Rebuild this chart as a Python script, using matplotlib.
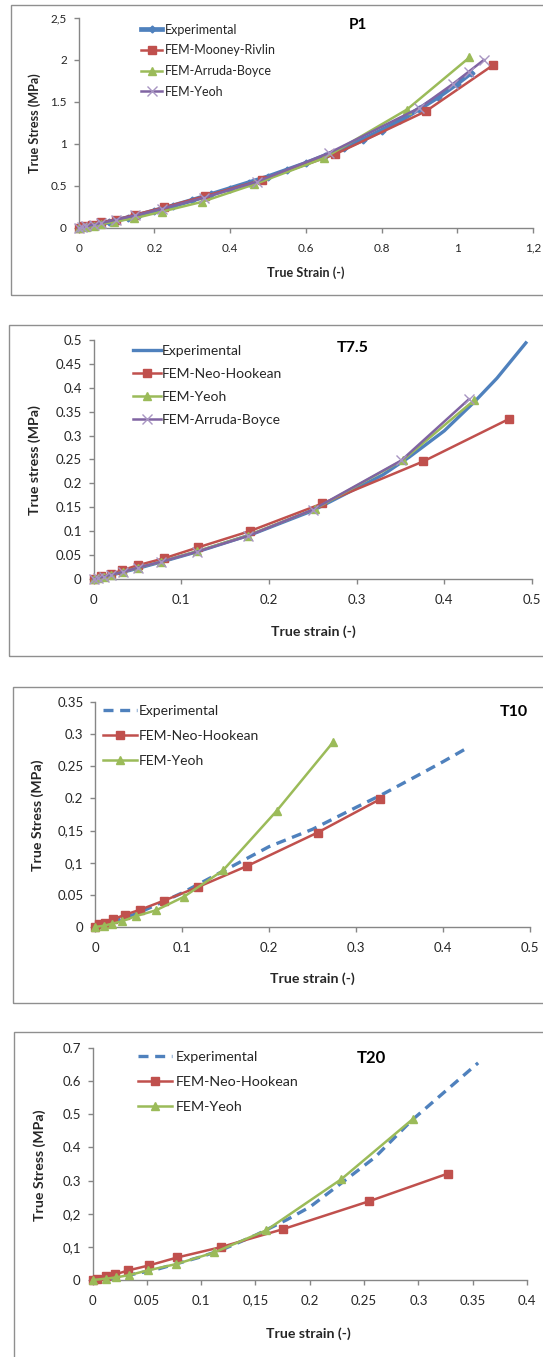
import matplotlib
matplotlib.use("Agg")
import matplotlib.pyplot as plt
from matplotlib.patches import Rectangle

plt.rcParams['font.family'] = ['Lato', 'DejaVu Sans']

W, H = 543, 1357
BLUE, RED, GREEN, PURPLE = '#4F81BD', '#C0504D', '#9BBB59', '#8064A2'
TXT = '#262626'
AX = '#868686'

# ---------------- P1 data ----------------
p1_exp_x = [0, 0.01, 0.02, 0.04, 0.06, 0.08, 0.1, 0.13, 0.16, 0.2, 0.25, 0.3, 0.35, 0.4, 0.45,
            0.5, 0.55, 0.6, 0.65, 0.7, 0.75, 0.8, 0.85, 0.9, 0.95, 1.0, 1.035]
p1_exp_y = [0, 0.008, 0.017, 0.035, 0.053, 0.072, 0.092, 0.122, 0.155, 0.205, 0.265, 0.33, 0.4, 0.47, 0.54,
            0.61, 0.69, 0.77, 0.86, 0.95, 1.05, 1.16, 1.28, 1.42, 1.56, 1.72, 1.84]
p1_mr_x = [0, 0.015, 0.035, 0.06, 0.1, 0.15, 0.226, 0.334, 0.484, 0.677, 0.917, 1.095]
p1_mr_y = [0, 0.02, 0.04, 0.07, 0.1, 0.16, 0.246, 0.38, 0.571, 0.877, 1.39, 1.94]
p1_ab_x = [0, 0.02, 0.04, 0.058, 0.094, 0.147, 0.22, 0.325, 0.464, 0.647, 0.867, 1.032]
p1_ab_y = [0, 0.01, 0.025, 0.045, 0.075, 0.115, 0.195, 0.31, 0.52, 0.83, 1.41, 2.03]
p1_ye_x = [0, 0.01, 0.02, 0.04, 0.06, 0.1, 0.15, 0.22, 0.33, 0.47, 0.66, 0.9, 0.99, 1.03, 1.07]
p1_ye_y = [0, 0.01, 0.02, 0.04, 0.06, 0.1, 0.15, 0.23, 0.36, 0.55, 0.89, 1.43, 1.72, 1.86, 2.0]
p1_xticks = [0, 0.2, 0.4, 0.6, 0.8, 1.0, 1.2]
p1_xlabels = ['0', '0.2', '0.4', '0.6', '0.8', '1', '1,2']
p1_yticks = [0, 0.5, 1.0, 1.5, 2.0, 2.5]
p1_ylabels = ['0', '0.5', '1', '1.5', '2', '2,5']

# ---------------- T7.5 data ----------------
t75_exp_x = [0, 0.02, 0.05, 0.08, 0.12, 0.18, 0.25, 0.3, 0.33, 0.36, 0.4, 0.434, 0.46, 0.493]
t75_exp_y = [0, 0.008, 0.022, 0.037, 0.058, 0.093, 0.143, 0.19, 0.218, 0.255, 0.31, 0.37, 0.42, 0.494]
t75_nh_x = [0, 0.009, 0.02, 0.032, 0.051, 0.08, 0.119, 0.178, 0.261, 0.376, 0.474]
t75_nh_y = [0, 0.006, 0.01, 0.018, 0.029, 0.043, 0.066, 0.1, 0.158, 0.246, 0.335]
t75_ye_x = [0, 0.005, 0.012, 0.02, 0.034, 0.051, 0.077, 0.118, 0.176, 0.253, 0.353, 0.434]
t75_ye_y = [0, 0.002, 0.005, 0.009, 0.015, 0.024, 0.036, 0.058, 0.091, 0.147, 0.249, 0.374]
t75_ab_x = [0, 0.005, 0.012, 0.02, 0.034, 0.051, 0.077, 0.118, 0.176, 0.25, 0.351, 0.428]
t75_ab_y = [0, 0.002, 0.005, 0.009, 0.015, 0.024, 0.036, 0.057, 0.09, 0.145, 0.248, 0.376]
t75_xticks = [0, 0.1, 0.2, 0.3, 0.4, 0.5]
t75_xlabels = ['0', '0.1', '0.2', '0.3', '0.4', '0.5']
t75_yticks = [0, 0.05, 0.1, 0.15, 0.2, 0.25, 0.3, 0.35, 0.4, 0.45, 0.5]
t75_ylabels = ['0', '0.05', '0.1', '0.15', '0.2', '0.25', '0.3', '0.35', '0.4', '0.45', '0.5']

# ---------------- T10 data ----------------
t10_exp_x = [0, 0.02, 0.05, 0.1, 0.15, 0.2, 0.25, 0.3, 0.33, 0.37, 0.4, 0.426]
t10_exp_y = [0, 0.008, 0.022, 0.053, 0.089, 0.125, 0.152, 0.186, 0.206, 0.235, 0.257, 0.277]
t10_nh_x = [0, 0.004, 0.011, 0.021, 0.034, 0.052, 0.079, 0.118, 0.175, 0.256, 0.328]
t10_nh_y = [0, 0.004, 0.007, 0.012, 0.019, 0.027, 0.041, 0.062, 0.095, 0.147, 0.199]
t10_ye_x = [0, 0.01, 0.019, 0.031, 0.047, 0.07, 0.102, 0.147, 0.209, 0.274]
t10_ye_y = [0, 0.002, 0.005, 0.009, 0.017, 0.026, 0.047, 0.088, 0.181, 0.288]
t10_xticks = [0, 0.1, 0.2, 0.3, 0.4, 0.5]
t10_xlabels = ['0', '0.1', '0.2', '0.3', '0.4', '0.5']
t10_yticks = [0, 0.05, 0.1, 0.15, 0.2, 0.25, 0.3, 0.35]
t10_ylabels = ['0', '0.05', '0,1', '0,15', '0.2', '0.25', '0.3', '0.35']

# ---------------- T20 data ----------------
t20_exp_x = [0, 0.02, 0.058, 0.1, 0.119, 0.15, 0.179, 0.2, 0.227, 0.26, 0.294, 0.325, 0.355]
t20_exp_y = [0, 0.006, 0.031, 0.07, 0.091, 0.135, 0.182, 0.22, 0.287, 0.37, 0.482, 0.57, 0.655]
t20_nh_x = [0, 0.004, 0.012, 0.021, 0.033, 0.052, 0.078, 0.118, 0.175, 0.255, 0.327]
t20_nh_y = [0, 0.004, 0.011, 0.017, 0.029, 0.044, 0.068, 0.099, 0.153, 0.238, 0.321]
t20_ye_x = [0, 0.012, 0.022, 0.034, 0.051, 0.077, 0.112, 0.16, 0.229, 0.295]
t20_ye_y = [0, 0.004, 0.008, 0.015, 0.029, 0.048, 0.083, 0.15, 0.304, 0.486]
t20_xticks = [0, 0.05, 0.1, 0.15, 0.2, 0.25, 0.3, 0.35, 0.4]
t20_xlabels = ['0', '0.05', '0.1', '0,15', '0.2', '0.25', '0.3', '0.35', '0.4']
t20_yticks = [0, 0.1, 0.2, 0.3, 0.4, 0.5, 0.6, 0.7]
t20_ylabels = ['0', '0,1', '0,2', '0.3', '0.4', '0.5', '0.6', '0.7']

fig = plt.figure(figsize=(W / 100, H / 100), dpi=100)
fig.patch.set_facecolor('white')


def fx(px):
    return px / W


def fy(py):
    return 1 - py / H


def border(x0, y0, y1):
    fig.add_artist(Rectangle((fx(x0), fy(y1)), fx(620 - x0), fy(y0) - fy(y1),
                             transform=fig.transFigure, fill=False, edgecolor='#8f8f8f', lw=1.0))


def make_axes(left, right, top, bottom, xticks, xlabels, yticks, ylabels, fs, xpad):
    ax = fig.add_axes([fx(left), fy(bottom), fx(right - left), fy(top) - fy(bottom)])
    ax.set_xlim(xticks[0], xticks[-1])
    ax.set_ylim(yticks[0], yticks[-1])
    ax.set_xticks(xticks)
    ax.set_xticklabels(xlabels)
    ax.set_yticks(yticks)
    ax.set_yticklabels(ylabels)
    for s in ['top', 'right']:
        ax.spines[s].set_visible(False)
    for s in ['left', 'bottom']:
        ax.spines[s].set_color(AX)
        ax.spines[s].set_linewidth(1.0)
    ax.tick_params(axis='both', direction='out', length=3.5, width=1.0, color=AX,
                   labelsize=fs, labelcolor=TXT)
    ax.tick_params(axis='x', pad=xpad)
    ax.tick_params(axis='y', pad=5)
    ax.patch.set_alpha(0)
    return ax


def labels(xlab, xpx, xpy, ylab, ypx, ypy, title, tpx, tpy, fs, tfs):
    fig.text(fx(xpx), fy(xpy), xlab, ha='center', va='center', fontsize=fs,
             fontweight='bold', color=TXT)
    fig.text(fx(ypx), fy(ypy), ylab, ha='center', va='center', fontsize=fs,
             fontweight='bold', color=TXT, rotation=90)
    fig.text(fx(tpx), fy(tpy), title, ha='center', va='center', fontsize=tfs,
             fontweight='bold', color='black')


SQ, TR, XM = 5.5, 6.0, 6.5

# ================= Panel 1: P1 =================
border(11.4, 5, 295)
ax1 = make_axes(78.6, 533, 18, 228, p1_xticks, p1_xlabels, p1_yticks, p1_ylabels, 8.5, 7)
l1, = ax1.plot(p1_exp_x, p1_exp_y, color=BLUE, lw=3.4, marker='D', ms=3.5, clip_on=False,
               label='Experimental', zorder=3)
l2, = ax1.plot(p1_mr_x, p1_mr_y, color=RED, lw=1.8, marker='s', ms=SQ, clip_on=False,
               label='FEM-Mooney-Rivlin', zorder=4)
l3, = ax1.plot(p1_ab_x, p1_ab_y, color=GREEN, lw=1.8, marker='^', ms=TR, clip_on=False,
               label='FEM-Arruda-Boyce', zorder=5)
l4, = ax1.plot(p1_ye_x, p1_ye_y, color=PURPLE, lw=1.8, marker='x', ms=XM, mew=1.0,
               mec='#A895C2', clip_on=False, label='FEM-Yeoh', zorder=6)
ax1.legend(handles=[l1, l2, l3, l4], loc='upper left', bbox_to_anchor=(fx(141), fy(23.5)),
           bbox_transform=fig.transFigure, frameon=False, fontsize=9, handlelength=1.7,
           handletextpad=0.25, labelspacing=0.7, borderpad=0, borderaxespad=0,
           labelcolor=TXT)
labels('True Strain (-)', 306, 273, 'True Stress (MPa)', 34.6, 123, 'P1', 358, 25, 9.1, 11)

# ================= Panel 2: T7.5 =================
border(9.3, 325, 656)
ax2 = make_axes(93.5, 532, 340, 579, t75_xticks, t75_xlabels, t75_yticks, t75_ylabels, 9.5, 7)
m1, = ax2.plot(t75_exp_x, t75_exp_y, color=BLUE, lw=2.4, clip_on=False,
               label='Experimental', zorder=3)
m2, = ax2.plot(t75_nh_x, t75_nh_y, color=RED, lw=1.8, marker='s', ms=SQ, clip_on=False,
               label='FEM-Neo-Hookean', zorder=4)
m3, = ax2.plot(t75_ye_x, t75_ye_y, color=GREEN, lw=1.8, marker='^', ms=TR, clip_on=False,
               label='FEM-Yeoh', zorder=5)
m4, = ax2.plot(t75_ab_x, t75_ab_y, color=PURPLE, lw=1.8, marker='x', ms=XM, mew=1.0,
               mec='#A895C2', clip_on=False, label='FEM-Arruda-Boyce', zorder=6)
ax2.legend(handles=[m1, m2, m3, m4], loc='upper left', bbox_to_anchor=(fx(133), fy(345)),
           bbox_transform=fig.transFigure, frameon=False, fontsize=10, handlelength=2.0,
           handletextpad=0.1, labelspacing=0.8, borderpad=0, borderaxespad=0,
           labelcolor=TXT)
labels('True strain (-)', 313, 632, 'True stress (MPa)', 34.6, 460, 'T7.5', 353, 348, 10.2, 11.5)

# ================= Panel 3: T10 =================
border(12.5, 687, 1003)
ax3 = make_axes(95.2, 529.8, 702, 927, t10_xticks, t10_xlabels, t10_yticks, t10_ylabels, 9.5, 7)
n1, = ax3.plot(t10_exp_x, t10_exp_y, color=BLUE, lw=2.4, ls=(0, (3, 2)), clip_on=False,
               label='Experimental', zorder=3)
n2, = ax3.plot(t10_nh_x, t10_nh_y, color=RED, lw=1.8, marker='s', ms=SQ, clip_on=False,
               label='FEM-Neo-Hookean', zorder=4)
n3, = ax3.plot(t10_ye_x, t10_ye_y, color=GREEN, lw=1.8, marker='^', ms=TR, clip_on=False,
               label='FEM-Yeoh', zorder=5)
ax3.legend(handles=[n1, n2, n3], loc='upper left', bbox_to_anchor=(fx(103), fy(705)),
           bbox_transform=fig.transFigure, frameon=False, fontsize=10, handlelength=2.45,
           handletextpad=0.15, labelspacing=0.94, borderpad=0, borderaxespad=0,
           labelcolor=TXT)
labels('True strain (-)', 312.6, 979, 'True Stress (MPa)', 37.4, 815, 'T10', 513.5, 712, 10.2, 11.5)

# ================= Panel 4: T20 =================
border(13.9, 1032, 1420)
ax4 = make_axes(92.5, 527, 1048, 1280, t20_xticks, t20_xlabels, t20_yticks, t20_ylabels, 9.5, 7)
o1, = ax4.plot(t20_exp_x, t20_exp_y, color=BLUE, lw=2.4, ls=(0, (3, 2)), clip_on=False,
               label='Experimental', zorder=3)
o2, = ax4.plot(t20_nh_x, t20_nh_y, color=RED, lw=1.8, marker='s', ms=SQ, clip_on=False,
               label='FEM-Neo-Hookean', zorder=4)
o3, = ax4.plot(t20_ye_x, t20_ye_y, color=GREEN, lw=1.8, marker='^', ms=TR, clip_on=False,
               label='FEM-Yeoh', zorder=5)
ax4.legend(handles=[o1, o2, o3], loc='upper left', bbox_to_anchor=(fx(138), fy(1051)),
           bbox_transform=fig.transFigure, frameon=False, fontsize=10.3, handlelength=2.4,
           handletextpad=0.25, labelspacing=0.9, borderpad=0, borderaxespad=0,
           labelcolor=TXT)
labels('True strain (-)', 308, 1334, 'True Stress (MPa)', 39.8, 1165, 'T20', 371.5, 1058, 10.2, 12)

fig.savefig('out.png', dpi=100, facecolor='white')
